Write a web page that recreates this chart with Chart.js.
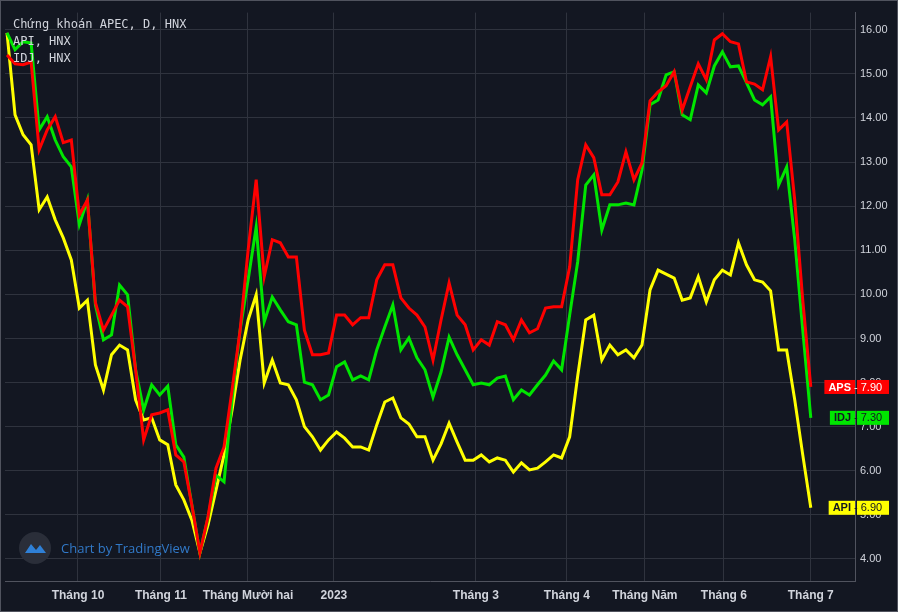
<!DOCTYPE html>
<html>
<head>
<meta charset="utf-8">
<script src="https://cdn.jsdelivr.net/npm/chart.js@4"></script>
<style>
  html, body { margin: 0; padding: 0; background: #131722; }
  #wrap { width: 896px; height: 610px; border: 1px solid #50535e; }
</style>
</head>
<body>
<div id="wrap"><canvas id="priceChart" width="896" height="610"></canvas></div>
<script>
// daily closes, sampled across Sep 2022 .. Jul 2023
const aps = [15.43,15.23,15.21,15.27,13.28,13.73,14.03,13.44,13.50,11.80,12.14,9.81,9.19,9.53,9.87,9.72,8.29,6.70,7.27,7.31,7.38,6.36,6.20,5.22,4.14,4.95,6.06,6.54,7.83,9.19,11.01,12.60,10.40,11.24,11.17,10.85,10.85,9.19,8.63,8.63,8.67,9.53,9.53,9.31,9.47,9.47,10.33,10.67,10.67,9.92,9.69,9.53,9.26,8.51,9.42,10.26,9.53,9.31,8.74,8.97,8.85,9.38,9.31,8.97,9.42,9.13,9.22,9.69,9.72,9.72,10.62,12.60,13.39,13.10,12.26,12.26,12.55,13.23,12.60,12.98,14.39,14.59,14.73,15.05,14.18,14.71,15.23,14.87,15.77,15.91,15.73,15.68,14.82,14.77,14.64,15.39,13.73,13.91,12.14,9.87,7.90];
const idj = [15.93,15.55,15.73,15.70,13.73,14.03,13.50,13.12,12.89,11.58,12.14,9.76,8.97,9.08,10.21,9.99,8.29,7.38,7.95,7.72,7.92,6.59,6.31,5.22,4.14,4.93,5.90,5.75,7.61,9.19,10.33,11.53,9.38,9.94,9.65,9.38,9.31,8.01,7.95,7.61,7.72,8.36,8.47,8.06,8.15,8.06,8.74,9.26,9.76,8.74,9.01,8.56,8.29,7.67,8.24,9.03,8.63,8.29,7.95,7.99,7.95,8.10,8.15,7.61,7.83,7.72,7.95,8.17,8.49,8.29,9.53,10.74,12.48,12.71,11.46,12.03,12.03,12.07,12.03,12.82,14.30,14.41,14.98,15.05,14.07,13.96,14.75,14.57,15.18,15.50,15.16,15.18,14.80,14.41,14.30,14.48,12.48,12.89,11.24,9.19,7.20];
const api = [15.93,14.07,13.62,13.39,11.92,12.21,11.69,11.28,10.78,9.69,9.87,8.40,7.83,8.63,8.85,8.74,7.61,7.15,7.20,6.70,6.59,5.68,5.34,4.88,4.14,4.77,5.56,6.36,7.38,8.51,9.42,9.99,7.99,8.51,7.99,7.95,7.61,7.00,6.77,6.47,6.70,6.88,6.74,6.54,6.54,6.47,7.04,7.56,7.65,7.20,7.06,6.77,6.77,6.24,6.61,7.08,6.65,6.24,6.24,6.36,6.20,6.29,6.24,5.97,6.18,6.02,6.06,6.20,6.36,6.29,6.77,8.15,9.42,9.53,8.51,8.85,8.63,8.74,8.56,8.85,10.10,10.55,10.46,10.37,9.87,9.92,10.40,9.83,10.33,10.55,10.44,11.17,10.67,10.33,10.28,10.08,8.74,8.74,7.61,6.36,5.16];

const monthLabels = ['Tháng 10','Tháng 11','Tháng Mười hai','2023','Tháng 3','Tháng 4','Tháng Năm','Tháng 6','Tháng 7'];
const monthPos = [8.83,19.15,29.98,40.67,58.33,69.65,79.35,89.18,100];
const priceTicks = [4,5,6,7,8,9,10,11,12,13,14,15,16];

const tagNames = ['APS','IDJ','API'];
const tagValues = ['7.90','7.30','6.90'];
const colors = ['#ff0000','#00e600','#ffff00'];
const tagText = ['#ffffff','#131722','#131722'];

const series = [aps, idj, api];
const toPoints = arr => arr.map((v, i) => ({x: i, y: v}));

const tagPlugin = {
  id: 'priceTags',
  afterDraw(chart) {
    const ctx = chart.ctx;
    const y = chart.scales.y;
    ctx.save();
    ctx.font = 'bold 11px "Liberation Sans", Arial, sans-serif';
    ctx.textBaseline = 'middle';
    series.forEach((s, k) => {
      const py = y.getPixelForValue(s[s.length - 1]);
      const nameW = ctx.measureText(tagNames[k]).width + 8;
      ctx.fillStyle = colors[k];
      ctx.fillRect(855 - nameW - 1, py - 7, nameW, 14);
      ctx.fillRect(856, py - 7, 32, 14);
      ctx.fillStyle = tagText[k];
      ctx.textAlign = 'left';
      ctx.fillText(tagNames[k], 855 - nameW + 3, py + 0.5);
      ctx.font = '11px "Liberation Sans", Arial, sans-serif';
      ctx.fillText('- ' + tagValues[k], 853, py + 0.5);
      ctx.font = 'bold 11px "Liberation Sans", Arial, sans-serif';
    });
    // legend text
    ctx.font = '12px "DejaVu Sans Mono", monospace';
    ctx.fillStyle = '#d1d4dc';
    ctx.textAlign = 'left';
    ctx.textBaseline = 'alphabetic';
    ['Chứng khoán APEC, D, HNX', 'API, HNX', 'IDJ, HNX'].forEach((t, i) => ctx.fillText(t, 12, 27 + i * 17));
    // watermark
    ctx.fillStyle = '#2a2e39';
    ctx.beginPath(); ctx.arc(34, 547, 16, 0, Math.PI * 2); ctx.fill();
    ctx.fillStyle = '#2f80d6';
    ctx.beginPath();
    ctx.moveTo(24, 552); ctx.lineTo(30, 543); ctx.lineTo(35, 549); ctx.lineTo(39, 544); ctx.lineTo(45, 552); ctx.closePath(); ctx.fill();
    ctx.font = '13px "Open Sans", sans-serif';
    ctx.fillStyle = '#3179c8';
    ctx.textBaseline = 'middle';
    ctx.fillText('Chart by TradingView', 60, 548);
    ctx.restore();
  }
};

new Chart(document.getElementById('priceChart'), {
  type: 'line',
  data: {
    datasets: series.map((s, k) => ({
      label: tagNames[k],
      data: toPoints(s),
      borderColor: colors[k],
      borderWidth: 3,
      pointRadius: 0,
      tension: 0
    }))
  },
  options: {
    responsive: false,
    animation: false,
    layout: { autoPadding: false, padding: { left: 4, top: 4, right: 0, bottom: 0 } },
    plugins: { legend: { display: false }, tooltip: { enabled: false } },
    scales: {
      x: {
        type: 'linear',
        min: -0.25,
        max: 105.5,
        afterBuildTicks: s => { s.ticks = monthPos.map(v => ({value: v})); },
        afterFit: s => { s.height = 30; },
        grid: { color: '#2f333e', lineWidth: 1, drawTicks: false },
        border: { color: '#50535e' },
        ticks: {
          autoSkip: false, maxRotation: 0, padding: 7,
          color: '#d1d4dc',
          font: { size: 12, weight: 'bold', family: '"Liberation Sans", Arial, sans-serif' },
          callback: (v, i) => monthLabels[i]
        }
      },
      y: {
        position: 'right',
        min: 3.5,
        max: 16.39,
        afterBuildTicks: s => { s.ticks = priceTicks.map(v => ({value: v})); },
        afterFit: s => { s.width = 42; },
        grid: { color: '#2f333e', lineWidth: 1, drawTicks: false },
        border: { color: '#50535e' },
        ticks: {
          padding: 5,
          color: '#d1d4dc',
          font: { size: 11, family: '"Liberation Sans", Arial, sans-serif' },
          callback: v => v.toFixed(2)
        }
      }
    }
  },
  plugins: [tagPlugin]
});
</script>
</body>
</html>
